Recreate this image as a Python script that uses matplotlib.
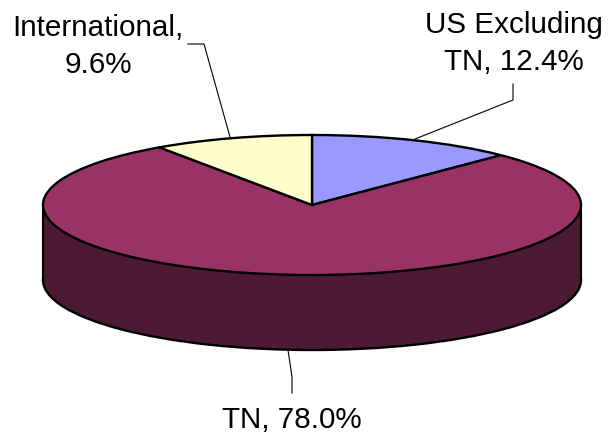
import matplotlib
matplotlib.use('Agg')
import matplotlib.pyplot as plt

labels = ['US Excluding\nTN, 12.4%', 'TN, 78.0%', 'International,\n9.6%']
values = [12.4, 78.0, 9.6]
top_colors = ['#9999ff', '#993366', '#ffffcc']
side_color = '#4d1a33'

plt.rcParams['font.family'] = ['Liberation Sans', 'DejaVu Sans']

W, H = 608, 438
fig = plt.figure(figsize=(W / 100, H / 100), dpi=100)
ax = fig.add_axes([0, 0, 1, 1])

# ellipse geometry in pixels, radius 1 gets stretched on each axis
rx, ry = 269, 70
cx, cy = 312, 205
depth = 75 / ry

# bottom disc (only the TN slice shows at the front), then a band up to the top face
ax.pie([sum(values)], colors=[side_color], startangle=90, counterclock=False,
       center=(0, -depth), radius=1,
       wedgeprops={'edgecolor': 'black', 'linewidth': 1.7, 'zorder': 1})
ax.fill_between([-1, 1], [-depth, -depth], [0, 0], color=side_color, lw=0, zorder=2)
ax.vlines([-1, 1], -depth, 0, color='black', lw=1.5, zorder=2)

# top face
ax.pie(values, colors=top_colors, startangle=90, counterclock=False,
       radius=1, wedgeprops={'edgecolor': 'black', 'linewidth': 1.7, 'zorder': 3})

ax.set_aspect('auto')
ax.set_xlim(-cx / rx, (W - cx) / rx)
ax.set_ylim(-(H - cy) / ry, cy / ry)
ax.axis('off')


def px(x, y):
    return (x - cx) / rx, (cy - y) / ry


# leader lines
leaders = [
    [(415, 139), (513, 100), (513, 84)],
    [(288, 350), (292, 377), (292, 393)],
    [(230, 137), (204, 44), (188, 44)],
]
for pts in leaders:
    xy = [px(*p) for p in pts]
    ax.plot([p[0] for p in xy], [p[1] for p in xy], color='black', lw=0.8, zorder=0)

# labels, y is the baseline of the last line
label_pos = [(514, 70), (292, 428), (98, 73)]
for txt, pos in zip(labels, label_pos):
    x, y = px(*pos)
    ax.text(x, y, txt, ha='center', va='baseline', fontsize=21.3, color='black',
            linespacing=1.42)

fig.savefig('out.png', dpi=100)
